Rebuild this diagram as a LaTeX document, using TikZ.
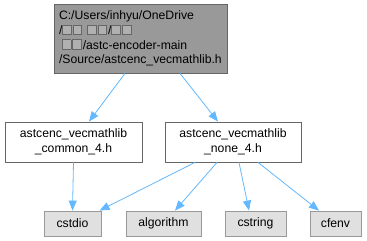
\documentclass[tikz,border=0pt]{standalone}
\usepackage{fontspec}
\setmainfont{Liberation Sans}
\usepackage{tikz}
\usetikzlibrary{arrows.meta}
\usepackage{xcolor}
\definecolor{dgtop}{HTML}{999999}
\definecolor{dgtopline}{HTML}{666666}
\definecolor{dgfile}{HTML}{FFFFFF}
\definecolor{dgsys}{HTML}{E0E0E0}
\definecolor{dgsysline}{HTML}{999999}
\definecolor{dgedge}{HTML}{63B8FF}
\definecolor{tofufill}{HTML}{B0B0B0}
% a glyph the font could not show
\newcommand{\tofu}{{\fboxsep=0pt\fboxrule=0.7pt\fcolorbox{dgtopline}{tofufill}{\rule{0pt}{9pt}\hspace{8pt}}}\hspace{1pt}}

\begin{document}
\begin{tikzpicture}[x=1pt, y=-1pt,
    font=\fontsize{12.2}{14.6}\selectfont,
    hdr/.style={draw=dgtopline, fill=dgtop, line width=0.8pt, inner sep=0pt,
                minimum width=173pt, minimum height=69pt},
    inc/.style={draw=dgtopline, fill=dgfile, line width=0.8pt, inner sep=0pt,
                minimum height=40pt, align=center},
    sys/.style={draw=dgsysline, fill=dgsys, line width=0.8pt, inner sep=0pt,
                minimum height=25pt},
    dep/.style={draw=dgedge, line width=0.8pt, -{Triangle[length=10pt, width=8pt]}}]
    \useasboundingbox (0,0) rectangle (367,241);

    % the header and what it pulls in
    \node[hdr, align=left, text width=163pt] (vecmath) at (140.5,38.5)
      {C:/Users/inhyu/OneDrive\\
       /\tofu\tofu{} \tofu\tofu/\tofu\tofu\\
       \hspace{3pt}\tofu\tofu/astc-encoder-main\\
       /Source/astcenc\_vecmathlib.h};
    \node[inc, minimum width=137pt] (common) at (73.5,142)
      {astcenc\_vecmathlib\\\_common\_4.h};
    \node[inc, minimum width=136pt] (none) at (233,142)
      {astcenc\_vecmathlib\\\_none\_4.h};

    % system headers
    \node[sys, minimum width=57pt] (cstdio) at (72.5,223.5) {cstdio};
    \node[sys, minimum width=75pt] (algorithm) at (163.5,223.5) {algorithm};
    \node[sys, minimum width=61pt] (cstring) at (255.5,223.5) {cstring};
    \node[sys, minimum width=51pt] (cfenv) at (335.5,223.5) {cfenv};

    \draw[dep] ([xshift=-15.5pt]vecmath.south) -- ([xshift=15.5pt]common.north);
    \draw[dep] ([xshift=39.5pt]vecmath.south) -- ([xshift=-15pt]none.north);
    \draw[dep] (common.south) -- (cstdio.north);
    \draw[dep] ([xshift=-38pt]none.south) -- ([xshift=27pt]cstdio.north);
    \draw[dep] ([xshift=-16pt]none.south) -- ([xshift=11.5pt]algorithm.north);
    \draw[dep] ([xshift=6pt]none.south) -- ([xshift=-6.5pt]cstring.north);
    \draw[dep] ([xshift=25pt]none.south) -- ([xshift=-16.5pt]cfenv.north);
  \end{tikzpicture}
\end{document}
